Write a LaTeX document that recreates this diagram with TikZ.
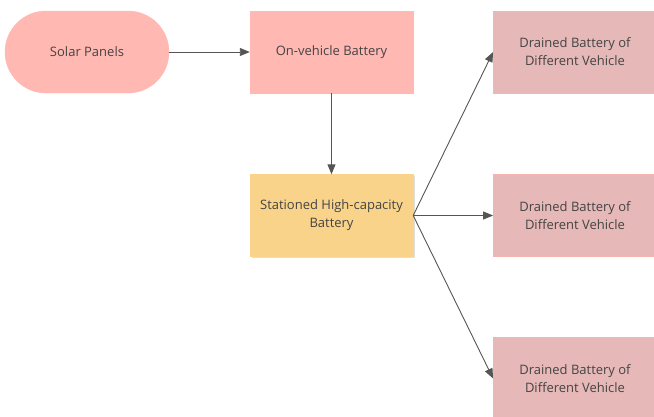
\documentclass[tikz,border=0pt]{standalone}
\usepackage{fontspec}
\setmainfont{Open Sans}
\usetikzlibrary{arrows.meta,shadows}
\definecolor{pinkfill}{HTML}{FFB8B2}
\definecolor{drainfill}{HTML}{E6B8B8}
\definecolor{drainedge}{HTML}{F4B4B0}
\definecolor{yellowfill}{HTML}{FAD38A}
\definecolor{txt}{HTML}{444444}
\definecolor{arr}{HTML}{555555}
\tikzset{
  box/.style={rectangle, minimum width=163pt, minimum height=82pt, inner sep=0pt,
    text=txt, font=\fontsize{13}{18}\selectfont, align=center},
  pinkbox/.style={box, fill=pinkfill, draw=pinkfill},
  drainbox/.style={box, fill=drainfill, draw=drainedge, line width=0.8pt},
  yellowbox/.style={box, fill=yellowfill, draw=yellowfill, drop shadow={shadow xshift=1.5pt, shadow yshift=-1.5pt, opacity=0.25}},
  conn/.style={draw=arr, line width=0.9pt, -{Triangle[length=10pt,width=8pt]}}
}
\begin{document}
\begin{tikzpicture}[x=1pt,y=-1pt]
\useasboundingbox (0,0) rectangle (654,416);
\clip (0,0) rectangle (654,416);
\node[pinkbox, rounded corners=41pt, minimum width=164pt] (solar) at (87,52) {Solar Panels};
\node[pinkbox] (onv) at (331.5,52) {On-vehicle Battery};
\node[yellowbox] (stat) at (331.5,215.5) {Stationed High-capacity\\Battery};
\node[drainbox] (d1) at (575,52) {Drained Battery of\\Different Vehicle};
\node[drainbox] (d2) at (575,215.5) {Drained Battery of\\Different Vehicle};
\node[drainbox] (d3) at (575,378.5) {Drained Battery of\\Different Vehicle};
\draw[conn] (solar.east) -- (onv.west);
\draw[conn] (onv.south) -- (stat.north);
\draw[conn] (stat.east) -- (d1.west);
\draw[conn] (stat.east) -- (d2.west);
\draw[conn] (stat.east) -- (d3.west);
\end{tikzpicture}
\end{document}
